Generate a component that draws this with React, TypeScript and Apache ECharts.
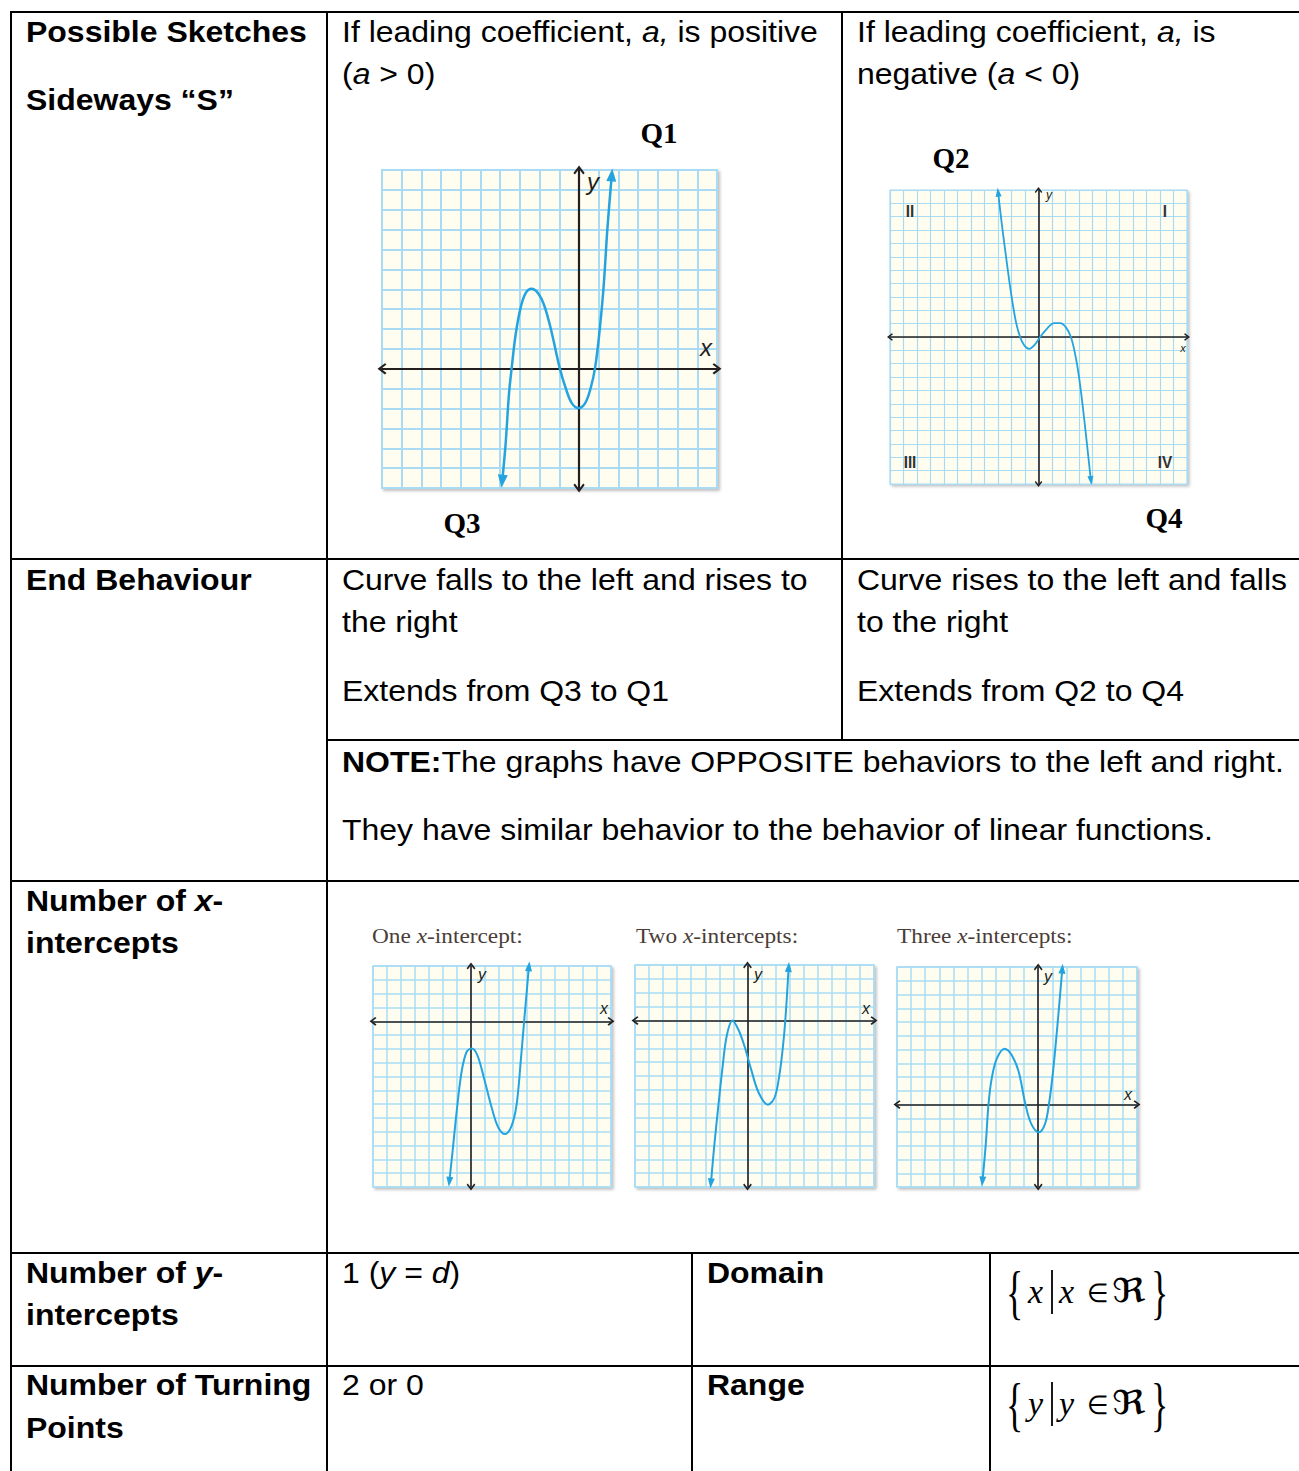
import React, { useEffect, useRef } from 'react';
import * as echarts from 'echarts';

// ---------------- DATA ----------------
// Curve points read from the sketches, in grid units [x, y]
const Q1_CURVE: number[][] = [
  [-3.9, -5.66], [-3.73, -3.82], [-3.56, -1.31], [-3.42, 0.03], [-3.22, 1.71], [-2.97, 3.05],
  [-2.71, 3.8], [-2.41, 4.02], [-2.08, 3.8], [-1.78, 3.22], [-1.44, 2.04], [-0.98, 0.03],
  [-0.68, -0.97], [-0.37, -1.73], [-0.03, -1.98], [0.31, -1.73], [0.59, -0.97], [0.81, 0.03],
  [1.02, 1.71], [1.24, 4.05], [1.44, 7.07], [1.66, 9.75],
];
const Q2_CURVE: number[][] = [
  [-2.99, 10.84], [-2.74, 8.63], [-2.42, 6.13], [-2.05, 3.4], [-1.68, 1.17], [-1.36, 0],
  [-1.06, -0.62], [-0.69, -0.89], [-0.27, -0.57], [0.12, 0], [0.67, 0.67], [1.16, 1.04],
  [1.6, 1.04], [2.02, 0.74], [2.4, 0], [2.72, -1.32], [3.01, -3.05], [3.26, -5.04],
  [3.51, -7.27], [3.88, -10.74],
];
const ONE_X_CURVE: number[][] = [
  [-1.55, -11.62], [-1.31, -9.36], [-1.02, -6.5], [-0.67, -3.64], [-0.31, -2.21], [0.05, -1.98],
  [0.45, -2.45], [0.93, -4.12], [1.48, -6.26], [1.95, -7.69], [2.43, -8.17], [2.9, -7.57],
  [3.26, -6.02], [3.57, -2.69], [3.81, 0.17], [4.14, 3.98],
];
const TWO_X_CURVE: number[][] = [
  [-2.6, -11.74], [-2.36, -9.0], [-2.07, -6.14], [-1.79, -3.52], [-1.48, -1.14], [-1.07, 0],
  [-0.64, -0.67], [-0.21, -1.86], [0.26, -3.52], [0.79, -5.19], [1.45, -6.07], [1.93, -5.55],
  [2.26, -4.0], [2.5, -2.1], [2.69, 0], [2.93, 3.86],
];
const THREE_X_CURVE: number[][] = [
  [-3.95, -5.6], [-3.71, -2.86], [-3.52, 0], [-3.29, 1.9], [-2.93, 3.33], [-2.38, 4.05],
  [-1.86, 3.57], [-1.38, 2.38], [-0.9, 0], [-0.48, -1.43], [0.05, -2.02], [0.48, -1.43],
  [0.76, 0], [1.05, 2.38], [1.36, 5.71], [1.71, 9.88],
];

// Axis ranges [min, max] (grid units)
const Q1_X_RANGE = [-10, 7];
const Q1_Y_RANGE = [-6, 10];
const Q2_X_RANGE = [-11, 11];
const Q2_Y_RANGE = [-11, 11];
const ONE_X_X_RANGE = [-7, 10];
const ONE_X_Y_RANGE = [-12, 4];
const TWO_X_X_RANGE = [-8, 9];
const TWO_X_Y_RANGE = [-12, 4];
const THREE_X_X_RANGE = [-10, 7];
const THREE_X_Y_RANGE = [-6, 10];

const GRAPH_TITLES = ['One {i|x}-intercept:', 'Two {i|x}-intercepts:', 'Three {i|x}-intercepts:'];
const QUADRANT_LABELS = ['II', 'I', 'III', 'IV'];

// ---------------- STYLE / LAYOUT ----------------
const W = 1299;
const H = 1471;
const SANS = '"Liberation Sans", Arial, Helvetica, sans-serif';
const SERIF = '"Liberation Serif", "Times New Roman", serif';
const FS = 29;
const SX = 1.103;
const BLUE = '#23a4e0';
const GRIDLINE = '#a9dcf4';
const PAPER = '#fffdef';
const AXIS = '#231f20';
const CHEVRON = 'path://M5,0 L10,6.6 L8.7,8 L5,3.2 L1.3,8 L0,6.6 Z';

type GraphSpec = {
  curve: number[][]; xr: number[]; yr: number[];
  box: { left: number; top: number; width: number; height: number };
  gridW: number; curveW: number; arrow: number[]; tip: number[];
};

const GRAPHS: GraphSpec[] = [
  { curve: Q1_CURVE, xr: Q1_X_RANGE, yr: Q1_Y_RANGE, box: { left: 382, top: 170, width: 335, height: 318 }, gridW: 2, curveW: 2.5, arrow: [13, 9], tip: [10, 13] },
  { curve: Q2_CURVE, xr: Q2_X_RANGE, yr: Q2_Y_RANGE, box: { left: 890, top: 190, width: 297, height: 294 }, gridW: 1.2, curveW: 1.8, arrow: [9, 6], tip: [6, 9] },
  { curve: ONE_X_CURVE, xr: ONE_X_X_RANGE, yr: ONE_X_Y_RANGE, box: { left: 373, top: 966, width: 238, height: 221 }, gridW: 1.5, curveW: 2, arrow: [10, 7], tip: [7, 10] },
  { curve: TWO_X_CURVE, xr: TWO_X_X_RANGE, yr: TWO_X_Y_RANGE, box: { left: 635, top: 965, width: 239, height: 222 }, gridW: 1.5, curveW: 2, arrow: [10, 7], tip: [7, 10] },
  { curve: THREE_X_CURVE, xr: THREE_X_X_RANGE, yr: THREE_X_Y_RANGE, box: { left: 897, top: 967, width: 240, height: 220 }, gridW: 1.5, curveW: 2, arrow: [10, 7], tip: [7, 10] },
];

function rich(fs: number, ff: string, fw: string) {
  return {
    i: { fontSize: fs, fontFamily: ff, fontStyle: 'italic', fontWeight: fw, fill: '#000', color: '#000' },
    b: { fontSize: fs, fontFamily: ff, fontStyle: 'normal', fontWeight: 'bold', fill: '#000', color: '#000' },
    bi: { fontSize: fs, fontFamily: ff, fontStyle: 'italic', fontWeight: 'bold', fill: '#000', color: '#000' },
  };
}

function txt(x: number, y: number, text: string, o: any = {}) {
  const fs = o.fs ?? FS;
  const ff = o.ff ?? SANS;
  const fw = o.fw ?? 'normal';
  const align = o.align ?? 'left';
  const r = rich(fs, ff, fw);
  if (o.fill) {
    Object.values(r).forEach((v: any) => { v.fill = o.fill; v.color = o.fill; });
  }
  return {
    type: 'text', x, y, scaleX: o.sx ?? SX, z: 10,
    style: {
      text, fontSize: fs, fontFamily: ff, fontWeight: fw, fontStyle: o.fst ?? 'normal',
      fill: o.fill ?? '#000',
      textAlign: align, align, textVerticalAlign: 'middle', verticalAlign: 'middle',
      rich: r,
    },
  };
}

function hline(x1: number, x2: number, y: number) {
  return { type: 'line', z: 5, shape: { x1, y1: y, x2, y2: y }, style: { stroke: '#000', lineWidth: 2 } };
}
function vline(x: number, y1: number, y2: number) {
  return { type: 'line', z: 5, shape: { x1: x, y1, x2: x, y2 }, style: { stroke: '#000', lineWidth: 2 } };
}

function endRotation(p: number[], q: number[], g: GraphSpec) {
  // direction from q to p, in pixel space (y up)
  const ux = g.box.width / (g.xr[1] - g.xr[0]);
  const uy = g.box.height / (g.yr[1] - g.yr[0]);
  const ang = Math.atan2((p[1] - q[1]) * uy, (p[0] - q[0]) * ux) * 180 / Math.PI;
  return ang - 90;
}

function mathSet(cy: number, v: string) {
  return [
    txt(1006, cy + 1, '{', { ff: SERIF, fs: 60, sx: 0.6 }),
    txt(1028, cy, v, { ff: SERIF, fs: 34, sx: 1, fst: 'italic' }),
    { type: 'line', z: 10, shape: { x1: 1052, y1: cy - 21, x2: 1052, y2: cy + 23 }, style: { stroke: '#000', lineWidth: 1.8 } },
    txt(1059, cy, v, { ff: SERIF, fs: 34, sx: 1, fst: 'italic' }),
    txt(1087, cy + 2, '∈', { ff: SERIF, fs: 26, sx: 0.95 }),
    txt(1112, cy, 'ℜ', { ff: '"DejaVu Serif", "DejaVu Sans", serif', fs: 33, sx: 1.25 }),
    txt(1151, cy + 1, '}', { ff: SERIF, fs: 60, sx: 0.6 }),
  ];
}

function buildOption() {
  const grids: any[] = [];
  const xAxes: any[] = [];
  const yAxes: any[] = [];
  const series: any[] = [];

  GRAPHS.forEach((g, i) => {
    grids.push({
      ...g.box, show: true, backgroundColor: PAPER, borderColor: GRIDLINE, borderWidth: g.gridW,
      shadowBlur: 3, shadowColor: 'rgba(0,0,0,0.25)', shadowOffsetX: 2, shadowOffsetY: 2,
    });
    const axisCommon = (r: number[]) => ({
      type: 'value', gridIndex: i, min: r[0], max: r[1], interval: 1,
      axisTick: { show: false }, axisLabel: { show: false },
      splitLine: { show: true, lineStyle: { color: GRIDLINE, width: g.gridW } },
      axisLine: {
        show: true, onZero: true, symbol: [CHEVRON, CHEVRON], symbolSize: g.arrow,
        lineStyle: { color: AXIS, width: g.gridW >= 2 ? 2.2 : 1.6 },
      },
    });
    xAxes.push(axisCommon(g.xr));
    yAxes.push(axisCommon(g.yr));
    const n = g.curve.length;
    const data = g.curve.map((p, k) => {
      if (k === 0) {
        return { value: p, symbol: 'triangle', symbolSize: g.tip, symbolRotate: endRotation(p, g.curve[1], g) };
      }
      if (k === n - 1) {
        return { value: p, symbol: 'triangle', symbolSize: g.tip, symbolRotate: endRotation(p, g.curve[n - 2], g) };
      }
      return p;
    });
    series.push({
      type: 'line', xAxisIndex: i, yAxisIndex: i, data, smooth: 0.35, symbol: 'none',
      showSymbol: true, lineStyle: { color: BLUE, width: g.curveW }, itemStyle: { color: BLUE },
      silent: true, z: 3, clip: false,
    });
  });

  const graphic: any[] = [];
  // table borders
  graphic.push(hline(10, W, 12));
  graphic.push(vline(11, 11, H));
  graphic.push(vline(327, 11, H));
  graphic.push(vline(842, 11, 740));
  graphic.push(hline(10, W, 559));
  graphic.push(hline(327, W, 740));
  graphic.push(hline(10, W, 881));
  graphic.push(hline(10, W, 1253));
  graphic.push(hline(10, W, 1366));
  graphic.push(vline(692, 1253, H));
  graphic.push(vline(990, 1253, H));

  // row 1
  graphic.push(txt(26, 32, 'Possible Sketches', { fw: 'bold' }));
  graphic.push(txt(26, 100, 'Sideways “S”', { fw: 'bold' }));
  graphic.push(txt(342, 32, 'If leading coefficient, {i|a,} is positive'));
  graphic.push(txt(342, 74, '({i|a} > 0)'));
  graphic.push(txt(857, 32, 'If leading coefficient, {i|a,} is'));
  graphic.push(txt(857, 74, 'negative ({i|a} < 0)'));
  const qOpt = { ff: SERIF, fw: 'bold', fs: 29, sx: 1, align: 'center' };
  graphic.push(txt(659, 133, 'Q1', qOpt));
  graphic.push(txt(462, 523, 'Q3', qOpt));
  graphic.push(txt(951, 158, 'Q2', qOpt));
  graphic.push(txt(1164, 518, 'Q4', qOpt));

  // axis letters in graphs
  const letter = (x: number, y: number, t: string, fs: number) =>
    txt(x, y, t, { ff: SANS, fs, sx: 1, fst: 'italic', fill: '#231f20', align: 'center' });
  graphic.push(letter(593, 181, 'y', 24), letter(706, 347, 'x', 24));
  graphic.push(letter(1049, 195, 'y', 12), letter(1183, 348, 'x', 11));
  graphic.push(letter(482, 974, 'y', 16), letter(604, 1008, 'x', 16));
  graphic.push(letter(758, 974, 'y', 16), letter(866, 1008, 'x', 16));
  graphic.push(letter(1048, 976, 'y', 16), letter(1128, 1094, 'x', 16));
  const qpos = [[910, 211], [1165, 211], [910, 462], [1165, 462]];
  QUADRANT_LABELS.forEach((t, k) => {
    graphic.push(txt(qpos[k][0], qpos[k][1], t, { ff: SANS, fs: 17, sx: 0.9, fw: 'bold', fill: '#333333', align: 'center' }));
  });

  // row 2
  graphic.push(txt(26, 580, 'End Behaviour', { fw: 'bold' }));
  graphic.push(txt(342, 580, 'Curve falls to the left and rises to'));
  graphic.push(txt(342, 622, 'the right'));
  graphic.push(txt(342, 691, 'Extends from Q3 to Q1'));
  graphic.push(txt(857, 580, 'Curve rises to the left and falls'));
  graphic.push(txt(857, 622, 'to the right'));
  graphic.push(txt(857, 691, 'Extends from Q2 to Q4'));
  graphic.push(txt(342, 762, '{b|NOTE:}The graphs have OPPOSITE behaviors to the left and right.'));
  graphic.push(txt(342, 830, 'They have similar behavior to the behavior of linear functions.'));

  // row 3
  graphic.push(txt(26, 901, 'Number of {bi|x}-', { fw: 'bold' }));
  graphic.push(txt(26, 943, 'intercepts', { fw: 'bold' }));
  const titleX = [372, 636, 897];
  GRAPH_TITLES.forEach((t, k) => {
    graphic.push(txt(titleX[k], 936, t, { ff: SERIF, fs: 22, sx: 1.06, fill: '#4a3d38' }));
  });

  // row 4
  graphic.push(txt(26, 1273, 'Number of {bi|y}-', { fw: 'bold' }));
  graphic.push(txt(26, 1315, 'intercepts', { fw: 'bold' }));
  graphic.push(txt(342, 1273, '1 ({i|y} = {i|d})'));
  graphic.push(txt(707, 1273, 'Domain', { fw: 'bold' }));
  graphic.push(...mathSet(1291, 'x'));

  // row 5
  graphic.push(txt(26, 1385, 'Number of Turning', { fw: 'bold' }));
  graphic.push(txt(26, 1428, 'Points', { fw: 'bold' }));
  graphic.push(txt(342, 1385, '2 or 0'));
  graphic.push(txt(707, 1385, 'Range', { fw: 'bold' }));
  graphic.push(...mathSet(1403, 'y'));

  return {
    animation: false,
    backgroundColor: '#ffffff',
    grid: grids,
    xAxis: xAxes,
    yAxis: yAxes,
    series,
    graphic,
  };
}

export default function App() {
  const ref = useRef<HTMLDivElement>(null);
  useEffect(() => {
    if (!ref.current) return;
    const chart = echarts.init(ref.current, null, { renderer: 'svg' });
    chart.setOption(buildOption() as any);
    return () => chart.dispose();
  }, []);
  return (
    <div
      ref={ref}
      style={{ position: 'absolute', left: 0, top: 0, width: W, height: H, background: '#fff' }}
    />
  );
}
